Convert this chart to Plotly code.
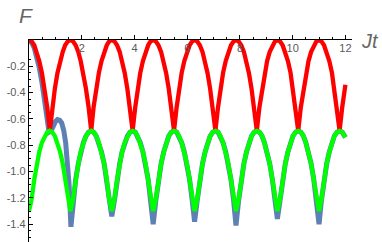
import plotly.graph_objects as go

# time grid (Jt)
t = [0.00, 0.10, 0.20, 0.29, 0.39, 0.49, 0.59, 0.69, 0.79, 0.88, 0.98, 1.08, 1.18, 1.28, 1.37, 1.47,
     1.57, 1.67, 1.77, 1.87, 1.96, 2.06, 2.16, 2.26, 2.36, 2.45, 2.55, 2.65, 2.75, 2.85, 2.95, 3.04,
     3.14, 3.24, 3.34, 3.44, 3.53, 3.63, 3.73, 3.83, 3.93, 4.03, 4.12, 4.22, 4.32, 4.42, 4.52, 4.61,
     4.71, 4.81, 4.91, 5.01, 5.11, 5.20, 5.30, 5.40, 5.50, 5.60, 5.69, 5.79, 5.89, 5.99, 6.09, 6.19,
     6.28, 6.38, 6.48, 6.58, 6.68, 6.77, 6.87, 6.97, 7.07, 7.17, 7.26, 7.36, 7.46, 7.56, 7.66, 7.76,
     7.85, 7.95, 8.05, 8.15, 8.25, 8.34, 8.44, 8.54, 8.64, 8.74, 8.84, 8.93, 9.03, 9.13, 9.23, 9.33,
     9.42, 9.52, 9.62, 9.72, 9.82, 9.92, 10.01, 10.11, 10.21, 10.31, 10.41, 10.50, 10.60, 10.70, 10.80, 10.90,
     11.00, 11.09, 11.19, 11.29, 11.39, 11.49, 11.58, 11.68, 11.78, 11.88, 11.98, 12.00]

red_F = [0, -0.01, -0.04, -0.09, -0.16, -0.25, -0.37, -0.51, -0.69, -0.51, -0.37, -0.25, -0.16, -0.09, -0.04, -0.01,
         0, -0.01, -0.04, -0.09, -0.16, -0.25, -0.37, -0.51, -0.69, -0.51, -0.37, -0.25, -0.16, -0.09, -0.04, -0.01,
         0, -0.01, -0.04, -0.09, -0.16, -0.25, -0.37, -0.51, -0.69, -0.51, -0.37, -0.25, -0.16, -0.09, -0.04, -0.01,
         0, -0.01, -0.04, -0.09, -0.16, -0.25, -0.37, -0.51, -0.69, -0.51, -0.37, -0.25, -0.16, -0.09, -0.04, -0.01,
         0, -0.01, -0.04, -0.09, -0.16, -0.25, -0.37, -0.51, -0.69, -0.51, -0.37, -0.25, -0.16, -0.09, -0.04, -0.01,
         0, -0.01, -0.04, -0.09, -0.16, -0.25, -0.37, -0.51, -0.69, -0.51, -0.37, -0.25, -0.16, -0.09, -0.04, -0.01,
         0, -0.01, -0.04, -0.09, -0.16, -0.25, -0.37, -0.51, -0.69, -0.51, -0.37, -0.25, -0.16, -0.09, -0.04, -0.01,
         0, -0.01, -0.04, -0.09, -0.16, -0.25, -0.37, -0.51, -0.69, -0.51, -0.37, -0.34]

green_F = [-1.30, -1.21, -1.06, -0.94, -0.85, -0.78, -0.73, -0.70, -0.69, -0.70, -0.73, -0.78, -0.85, -0.94, -1.06, -1.21,
           -1.30, -1.21, -1.06, -0.94, -0.85, -0.78, -0.73, -0.70, -0.69, -0.70, -0.73, -0.78, -0.85, -0.94, -1.06, -1.21,
           -1.30, -1.21, -1.06, -0.94, -0.85, -0.78, -0.73, -0.70, -0.69, -0.70, -0.73, -0.78, -0.85, -0.94, -1.06, -1.21,
           -1.30, -1.21, -1.06, -0.94, -0.85, -0.78, -0.73, -0.70, -0.69, -0.70, -0.73, -0.78, -0.85, -0.94, -1.06, -1.21,
           -1.30, -1.21, -1.06, -0.94, -0.85, -0.78, -0.73, -0.70, -0.69, -0.70, -0.73, -0.78, -0.85, -0.94, -1.06, -1.21,
           -1.30, -1.21, -1.06, -0.94, -0.85, -0.78, -0.73, -0.70, -0.69, -0.70, -0.73, -0.78, -0.85, -0.94, -1.06, -1.21,
           -1.30, -1.21, -1.06, -0.94, -0.85, -0.78, -0.73, -0.70, -0.69, -0.70, -0.73, -0.78, -0.85, -0.94, -1.06, -1.21,
           -1.30, -1.21, -1.06, -0.94, -0.85, -0.78, -0.73, -0.70, -0.69, -0.70, -0.73, -0.74]

# blue: its own early transient, then values on t[17:]
blue_t_start = [0.00, 0.10, 0.20, 0.29, 0.39, 0.49, 0.59, 0.69, 0.76, 0.84, 0.92, 1.00, 1.08, 1.16, 1.24,
                1.32, 1.39, 1.46, 1.52, 1.59]
blue_F_start = [0.00, -0.02, -0.06, -0.12, -0.21, -0.32, -0.46, -0.62, -0.70, -0.69, -0.65, -0.62, -0.605, -0.61, -0.63,
                -0.69, -0.78, -0.92, -1.10, -1.42]
blue_F_rest = [-1.22, -1.06, -0.94, -0.85, -0.78, -0.73, -0.70, -0.69, -0.70, -0.73, -0.78, -0.85, -0.94, -1.06, -1.22,
               -1.34, -1.22, -1.06, -0.94, -0.85, -0.78, -0.73, -0.70, -0.69, -0.70, -0.73, -0.78, -0.85, -0.94, -1.06, -1.22,
               -1.40, -1.22, -1.06, -0.94, -0.85, -0.78, -0.73, -0.70, -0.69, -0.70, -0.73, -0.78, -0.85, -0.94, -1.06, -1.22,
               -1.38, -1.22, -1.06, -0.94, -0.85, -0.78, -0.73, -0.70, -0.69, -0.70, -0.73, -0.78, -0.85, -0.94, -1.06, -1.22,
               -1.41, -1.22, -1.06, -0.94, -0.85, -0.78, -0.73, -0.70, -0.69, -0.70, -0.73, -0.78, -0.85, -0.94, -1.06, -1.22,
               -1.36, -1.22, -1.06, -0.94, -0.85, -0.78, -0.73, -0.70, -0.69, -0.70, -0.73, -0.78, -0.85, -0.94, -1.06, -1.22,
               -1.40, -1.22, -1.06, -0.94, -0.85, -0.78, -0.73, -0.70, -0.69, -0.70, -0.73, -0.74]

x_ticks = [2, 4, 6, 8, 10, 12]
x_minor = [0.5, 1, 1.5, 2.5, 3, 3.5, 4.5, 5, 5.5, 6.5, 7, 7.5, 8.5, 9, 9.5, 10.5, 11, 11.5]
y_ticks = [-0.2, -0.4, -0.6, -0.8, -1.0, -1.2, -1.4]
y_labels = ["-0.2", "-0.4", "-0.6", "-0.8", "-1.0", "-1.2", "-1.4"]

blue_t = blue_t_start + t[17:]
blue_F = blue_F_start + blue_F_rest

fig = go.Figure()
fig.add_trace(go.Scatter(x=blue_t, y=blue_F, mode="lines",
                         line=dict(color="rgb(94,129,181)", width=5)))
fig.add_trace(go.Scatter(x=t, y=red_F, mode="lines",
                         line=dict(color="#ff0000", width=4.3)))
fig.add_trace(go.Scatter(x=t, y=green_F, mode="lines",
                         line=dict(color="#00ff00", width=4.3)))

tick_font = dict(family="Liberation Sans, Arial, sans-serif", size=11, color="#5a5a5a")

fig.update_layout(
    width=382, height=242,
    margin=dict(l=29, r=30, t=40, b=0, pad=0),
    plot_bgcolor="white", paper_bgcolor="white",
    showlegend=False,
    xaxis=dict(range=[0, 12.25], side="top", showline=True, linecolor="black", linewidth=1.3,
               automargin=False,
               ticks="outside", ticklen=4, tickcolor="black", tickwidth=1,
               tickvals=x_ticks, ticktext=[str(v) for v in x_ticks],
               ticklabelposition="inside", ticklabelstandoff=3, tickfont=tick_font,
               minor=dict(tickvals=x_minor, ticks="outside", ticklen=2, tickcolor="black"),
               showgrid=False, zeroline=False),
    yaxis=dict(range=[-1.535, 0], showline=True, linecolor="black", linewidth=1.3,
               automargin=False,
               ticks="inside", ticklen=4, tickcolor="black", tickwidth=1,
               tickvals=y_ticks, ticktext=y_labels, tickfont=tick_font,
               minor=dict(dtick=0.05, tick0=0, ticks="inside", ticklen=2, tickcolor="black"),
               showgrid=False, zeroline=False),
    annotations=[
        dict(text="<i>F</i>", xref="paper", yref="paper", x=0, y=1, xanchor="center", yanchor="middle",
             xshift=-3, yshift=25, showarrow=False, font=dict(family="Liberation Sans, Arial, sans-serif", size=21, color="#666666")),
        dict(text="<i>Jt</i>", xref="paper", yref="paper", x=1, y=1, xanchor="center", yanchor="middle",
             xshift=18, yshift=-1, showarrow=False, font=dict(family="Liberation Sans, Arial, sans-serif", size=20, color="#666666")),
    ],
)

fig.write_html("out.html", config={"displayModeBar": False},
               post_script="document.body.style.margin='0';document.body.style.overflow='hidden';")
